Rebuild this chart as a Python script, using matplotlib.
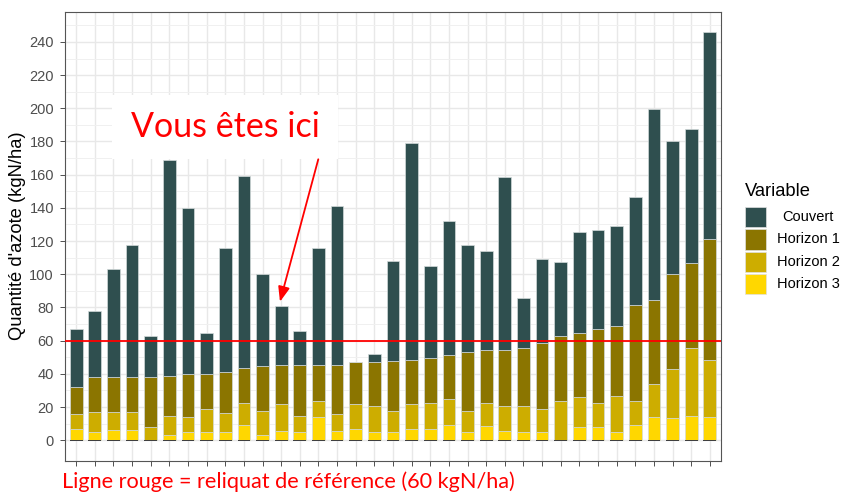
import matplotlib
matplotlib.use("Agg")
import matplotlib.pyplot as plt
from matplotlib.patches import Rectangle
import numpy as np

# ---------------- data ----------------
parcelles = list(range(1, 36))
couvert = [34.7, 39.7, 65.2, 79.8, 24.9, 130.3, 100.3, 24.7, 75.2, 115.3,
           55.2, 35.1, 20.1, 70.6, 95.7, 0.0, 4.9, 60.1, 130.3, 54.9,
           80.6, 64.8, 59.6, 104.6, 30.3, 50.5, 44.9, 60.6, 59.8, 60.4,
           65.2, 115.1, 80.0, 80.6, 124.9]
horizon1 = [16.0, 21.0, 21.0, 21.0, 30.1, 23.8, 25.8, 20.6, 24.2, 21.2,
            27.0, 23.6, 30.6, 21.6, 29.4, 24.8, 26.2, 30.1, 26.7, 27.3,
            26.5, 35.1, 31.7, 33.5, 34.9, 39.5, 38.9, 38.5, 44.5, 42.3,
            57.9, 50.4, 57.4, 50.9, 72.4]
horizon2 = [9.5, 12.1, 10.9, 10.9, 7.8, 11.5, 9.1, 14.3, 11.9, 13.1,
            14.5, 16.1, 10.1, 10.0, 10.3, 15.5, 15.9, 13.1, 15.3, 15.9,
            15.7, 13.1, 13.7, 14.9, 15.9, 14.3, 23.9, 18.3, 14.7, 21.7,
            14.7, 20.0, 29.4, 40.9, 34.7]
horizon3 = [6.6, 4.8, 6.0, 6.0, 0.0, 3.4, 4.8, 4.8, 4.8, 9.4,
            3.4, 5.8, 4.8, 13.9, 5.8, 6.6, 4.8, 4.8, 6.6, 6.6,
            9.4, 4.8, 8.8, 5.8, 4.8, 4.8, 0.0, 7.8, 7.8, 4.8,
            9.0, 13.9, 13.3, 14.9, 13.9]
variables = ["Couvert", "Horizon 1", "Horizon 2", "Horizon 3"]
colors = ["#2F4F4F", "#8B7500", "#CDAD00", "#FFD700"]
reference = 60
yticks = list(range(0, 241, 20))

# ---------------- figure ----------------
W, H = 843, 493
fig = plt.figure(figsize=(W / 100, H / 100), dpi=100)
ax = fig.add_axes([65 / W, (H - 460.7) / H, (721 - 65) / W, (460.7 - 11.7) / H])

x = np.array(parcelles, dtype=float)
series = [horizon3, horizon2, horizon1, couvert]
series_cols = [colors[3], colors[2], colors[1], colors[0]]
bottom = np.zeros(len(x))
width = 0.68
for vals, col in zip(series, series_cols):
    v = np.array(vals)
    ax.bar(x, v, bottom=bottom, width=width, color=col,
           edgecolor="#d3dada", linewidth=0.5, zorder=2)
    bottom = bottom + v
# thin dark base under each bar
ax.bar(x, 0.9, bottom=-0.6, width=width, color="#404040", linewidth=0, zorder=3)

ax.axhline(reference, color="#FF0000", linewidth=1.3, zorder=4)

total = bottom
ymax = total.max()
ax.set_ylim(-0.05 * ymax, 1.05 * ymax)
ax.set_xlim(0.4, len(x) + 0.6)

ax.set_yticks(yticks)
ax.set_yticklabels([str(t) for t in yticks])
ax.set_yticks(np.arange(10, 260, 20), minor=True)
ax.set_xticks(x)
ax.set_xticklabels([])

ax.grid(True, which="major", color="#E8E8E8", linewidth=1.0, zorder=0)
ax.grid(True, which="minor", axis="y", color="#F0F0F0", linewidth=0.7, zorder=0)
ax.set_axisbelow(True)
ax.tick_params(axis="y", which="major", length=3.5, width=0.6, color="#333333",
               labelcolor="#4D4D4D", labelsize=10.5, pad=4.5)
ax.tick_params(axis="x", which="major", length=3.5, width=0.6, color="#333333")
ax.tick_params(which="minor", length=0)
for lab in ax.get_yticklabels():
    lab.set_fontfamily("Liberation Sans")
for s in ax.spines.values():
    s.set_color("#555555")
    s.set_linewidth(0.8)

# y label
fig.text(18 / W, 1 - 236 / H, "Quantité d'azote (kgN/ha)", rotation=90,
         ha="center", va="center", fontsize=13.2, family="Liberation Sans",
         color="black")

# legend (manual)
fig.text(745 / W, 1 - 196 / H, "Variable", fontsize=13.2,
         family="Liberation Sans", ha="left", va="baseline")
for i, (name, col) in enumerate(zip(variables, colors)):
    top = 206.7 + 22.4 * i
    fig.patches.append(Rectangle((745 / W, 1 - (top + 20.5) / H), 21 / W, 20.5 / H,
                                 transform=fig.transFigure, facecolor=col,
                                 edgecolor="#e0e0e0", linewidth=0.5))
    fig.text(808 / W, 1 - (top + 10.3) / H, name, fontsize=10.5,
             family="Liberation Sans", ha="center", va="center")

# annotation box and arrow
ax.add_patch(Rectangle((0.0712, 0.6713), 0.4166 - 0.0712, 0.8145 - 0.6713,
                       transform=ax.transAxes, facecolor="white",
                       edgecolor="none", zorder=5))
ax.text(0.2439, 0.7216, "Vous êtes ici", transform=ax.transAxes,
        ha="center", va="baseline", color="#FF0000", fontsize=24.5,
        family="Lato", zorder=6)
ax.annotate("", xy=(0.3277, 0.3541), xytext=(0.3861, 0.6713),
            xycoords="axes fraction", textcoords="axes fraction",
            arrowprops=dict(arrowstyle="-|>,head_length=0.9,head_width=0.35",
                            color="#FF0000", lw=1.3, shrinkA=0, shrinkB=0),
            zorder=6)

# caption
fig.text(62 / W, 1 - 488.5 / H, "Ligne rouge = reliquat de référence (60 kgN/ha)",
         color="#FF0000", fontsize=15.6, family="Lato", ha="left", va="baseline")

fig.savefig("out.png", dpi=100)
